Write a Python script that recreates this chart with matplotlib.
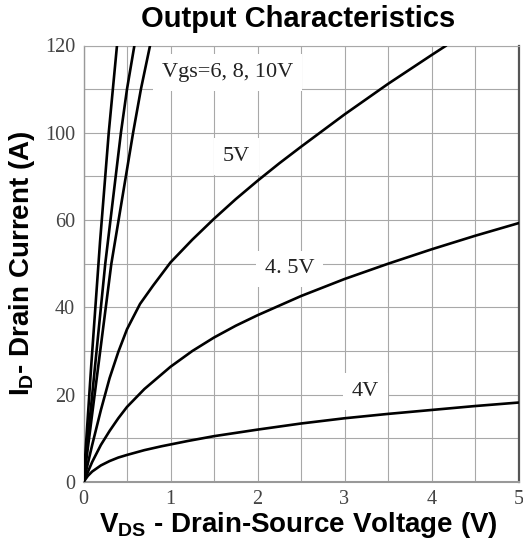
import matplotlib
matplotlib.use('Agg')
import matplotlib.pyplot as plt

plt.rcParams['mathtext.fontset'] = 'custom'
plt.rcParams['mathtext.rm'] = 'Liberation Sans'
plt.rcParams['mathtext.bf'] = 'Liberation Sans:bold'

# 数据（按图读取，y 为坐标轴位置单位 0~100）
vds_10v = [0, 0.09, 0.19, 0.29, 0.385]
id_10v = [0, 27, 55, 80, 100]
vds_8v = [0, 0.125, 0.25, 0.43, 0.50, 0.585]
id_8v = [0, 25, 50, 80, 90, 100]
vds_6v = [0, 0.16, 0.32, 0.57, 0.66, 0.765]
id_6v = [0, 25, 50, 80, 90, 100]

vds_5v = [0, 0.1, 0.2, 0.3, 0.4, 0.5, 0.65, 0.8, 1.0, 1.25, 1.5, 1.75, 2.0,
          2.25, 2.5, 3.0, 3.5, 4.0, 4.17]
id_5v = [0, 8.5, 16.5, 23.8, 29.8, 35, 40.8, 45.0, 50.3, 55.5, 60.3, 64.8, 69.0,
         73.0, 76.8, 84.2, 91.2, 97.8, 100]

vds_45v = [0, 0.1, 0.2, 0.3, 0.4, 0.5, 0.7, 1.0, 1.25, 1.5, 1.75, 2.0, 2.5,
           3.0, 3.5, 4.0, 4.5, 5.0]
id_45v = [0, 4.6, 8.5, 11.7, 14.6, 17.2, 21.3, 26.4, 30.0, 33.1, 35.8, 38.2, 42.6,
          46.5, 50.0, 53.3, 56.4, 59.3]

vds_4v = [0, 0.05, 0.1, 0.2, 0.3, 0.4, 0.5, 0.7, 0.9, 1.2, 1.5, 2.0, 2.5, 3.0,
          3.5, 4.0, 4.5, 5.0]
id_4v = [0, 1.4, 2.4, 3.8, 4.8, 5.6, 6.2, 7.3, 8.2, 9.4, 10.5, 12.0, 13.4, 14.6,
         15.6, 16.5, 17.4, 18.2]

x_ticks = [0, 1, 2, 3, 4, 5]
y_ticks = [0, 20, 40, 60, 80, 100]
y_tick_labels = ['0', '20', '40', '60', '100', '120']  # 原图标注如此

curve_labels = ['Vgs=6, 8, 10V', '5V', '4. 5V', '4V']
label_pos = [(1.66, 93.9), (1.76, 74.5), (2.37, 48.8), (3.24, 20.8)]

fig = plt.figure(figsize=(5.23, 5.47), dpi=100)
ax = fig.add_axes([83.5 / 523, 1 - 482 / 547, 435 / 523, 436.5 / 547])

for vx, iy in [(vds_10v, id_10v), (vds_8v, id_8v), (vds_6v, id_6v),
               (vds_5v, id_5v), (vds_45v, id_45v), (vds_4v, id_4v)]:
    ax.plot(vx, iy, color='black', lw=1.9, solid_capstyle='round',
            solid_joinstyle='round', zorder=3)

ax.set_xlim(0, 5)
ax.set_ylim(0, 100)
ax.set_xticks([x * 0.5 for x in range(11)], minor=True)
ax.set_yticks([y for y in range(0, 101, 10)], minor=True)
ax.set_xticks(x_ticks)
ax.set_yticks(y_ticks)
ax.set_yticklabels(y_tick_labels)
ax.grid(which='both', color='#a8a8a8', lw=0.8)
ax.tick_params(which='both', length=0)
ax.tick_params(axis='x', pad=6)
ax.tick_params(axis='y', pad=6)
for lab in ax.get_xticklabels() + ax.get_yticklabels():
    lab.set_fontfamily('Liberation Serif')
    lab.set_fontsize(14.5)
    lab.set_color('#444444')

ax.spines['top'].set_color('#a8a8a8')
ax.spines['top'].set_linewidth(0.8)
ax.spines['right'].set_color('#555555')
ax.spines['right'].set_linewidth(1.6)
ax.spines['bottom'].set_color('#999999')
ax.spines['bottom'].set_linewidth(1.5)
ax.spines['left'].set_color('#999999')
ax.spines['left'].set_linewidth(1.0)

# 曲线标注（白底，压在网格上、曲线下）
for txt, (tx, ty) in zip(curve_labels, label_pos):
    ax.text(tx, ty, txt, family='Liberation Serif', fontsize=16, color='#222222',
            ha='center', va='center', zorder=2.5,
            bbox=dict(boxstyle='square,pad=0.4', fc='white', ec='none'))

ax.set_title('Output Characteristics', family='Liberation Sans', fontweight='bold',
             fontsize=21, x=0.494, y=1.061, va='center', pad=0)
ax.set_xlabel(r'$\mathbf{V_{DS}}$ - Drain-Source Voltage (V)', family='Liberation Sans',
              fontweight='bold', fontsize=20, va='center')
ax.xaxis.set_label_coords(0.494, -0.098)
ax.set_ylabel(r'$\mathbf{I_{D}}$- Drain Current (A)', family='Liberation Sans',
              fontweight='bold', fontsize=20, va='center')
ax.yaxis.set_label_coords(-0.142, 0.50)

fig.savefig('out.png', dpi=100)
